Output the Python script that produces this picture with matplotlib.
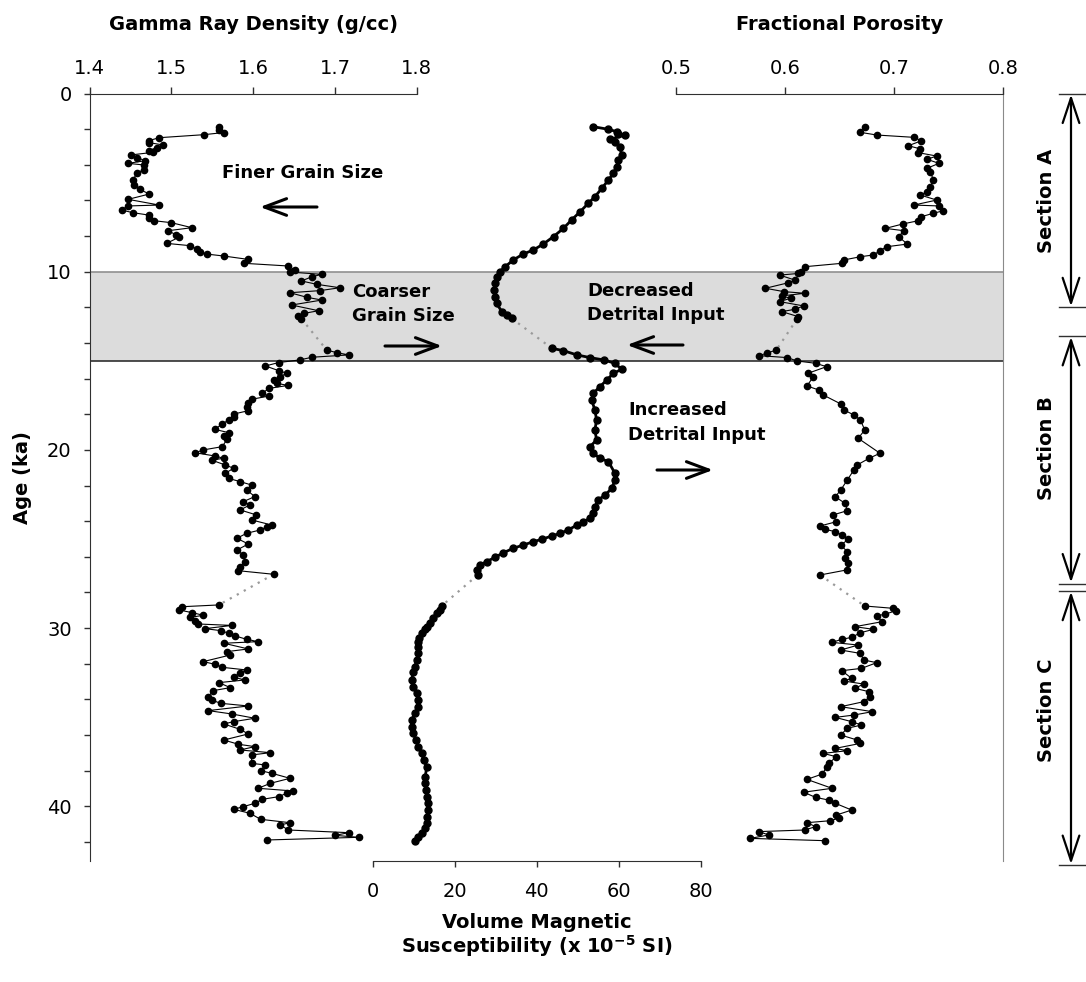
import numpy as np
import matplotlib
matplotlib.use('Agg')
import matplotlib.pyplot as plt
from matplotlib.patches import FancyArrowPatch

plt.rcParams['font.family'] = ['DejaVu Sans']
plt.rcParams['mathtext.default'] = 'bf'

# ---- Gamma ray density (g/cc) vs age (ka) ----
rho_age = [1.90, 2.05, 2.19, 2.31, 2.48, 2.65, 2.76, 2.89, 3.04, 3.21,
           3.30, 3.45, 3.60, 3.77, 3.92, 4.01, 4.29, 4.44, 4.85, 5.13,
           5.38, 5.64, 5.94, 6.26, 6.31, 6.54, 6.69, 6.82, 7.01, 7.14,
           7.25, 7.53, 7.70, 7.94, 8.07, 8.41, 8.54, 8.73, 8.88, 9.01,
           9.12, 9.31, 9.53, 9.68, 9.90, 10.02, 10.15, 10.28, 10.52, 10.71,
           10.90, 11.06, 11.18, 11.44, 11.59, 11.87, 12.19, 12.34, 12.49, 12.64,
           14.40, 14.54, 14.67, 14.80, 14.95, 15.10, 15.29, 15.55, 15.70, 15.89,
           16.08, 16.27, 16.38, 16.55, 16.83, 16.98, 17.16, 17.39, 17.61, 17.80,
           17.99, 18.13, 18.32, 18.55, 18.85, 19.03, 19.22, 19.41, 19.82, 20.00,
           20.16, 20.34, 20.47, 20.57, 20.85, 21.03, 21.31, 21.60, 21.78, 21.97,
           22.25, 22.62, 22.90, 23.09, 23.37, 23.65, 23.93, 24.22, 24.31, 24.50,
           24.68, 24.96, 25.28, 25.62, 25.90, 26.27, 26.55, 26.78, 26.98,
           28.70, 28.80, 28.98, 29.13, 29.28, 29.40, 29.58, 29.77, 29.85, 30.03,
           30.14, 30.29, 30.44, 30.63, 30.76, 30.85, 31.17, 31.32, 31.51, 31.88,
           32.03, 32.20, 32.35, 32.50, 32.76, 32.91, 33.06, 33.34, 33.51, 33.85,
           34.03, 34.22, 34.37, 34.63, 34.82, 35.06, 35.25, 35.38, 35.68, 35.94,
           36.28, 36.52, 36.65, 36.84, 36.99, 37.12, 37.59, 37.68, 38.00, 38.15,
           38.43, 38.71, 38.99, 39.14, 39.27, 39.46, 39.61, 39.83, 40.02, 40.17,
           40.39, 40.73, 40.92, 41.05, 41.33, 41.48, 41.63, 41.74, 41.89]
rho_val = [1.558, 1.558, 1.564, 1.540, 1.485, 1.472, 1.473, 1.490, 1.482, 1.472,
           1.478, 1.450, 1.458, 1.468, 1.447, 1.466, 1.466, 1.458, 1.453, 1.454,
           1.461, 1.473, 1.447, 1.485, 1.447, 1.439, 1.453, 1.472, 1.473, 1.479,
           1.500, 1.525, 1.496, 1.506, 1.509, 1.494, 1.523, 1.531, 1.535, 1.543,
           1.564, 1.594, 1.589, 1.643, 1.651, 1.645, 1.684, 1.672, 1.659, 1.678,
           1.706, 1.682, 1.645, 1.666, 1.684, 1.647, 1.680, 1.662, 1.655, 1.659,
           1.690, 1.702, 1.717, 1.672, 1.657, 1.631, 1.615, 1.631, 1.641, 1.633,
           1.625, 1.629, 1.643, 1.619, 1.611, 1.619, 1.598, 1.594, 1.592, 1.594,
           1.576, 1.576, 1.570, 1.562, 1.553, 1.570, 1.564, 1.568, 1.562, 1.539,
           1.529, 1.553, 1.564, 1.549, 1.566, 1.576, 1.566, 1.570, 1.584, 1.598,
           1.592, 1.602, 1.588, 1.596, 1.584, 1.604, 1.598, 1.623, 1.617, 1.608,
           1.592, 1.580, 1.594, 1.580, 1.588, 1.590, 1.584, 1.582, 1.625,
           1.558, 1.513, 1.509, 1.525, 1.539, 1.523, 1.529, 1.533, 1.574, 1.541,
           1.560, 1.570, 1.578, 1.592, 1.606, 1.564, 1.594, 1.568, 1.572, 1.539,
           1.553, 1.562, 1.592, 1.584, 1.576, 1.590, 1.558, 1.572, 1.551, 1.545,
           1.549, 1.560, 1.594, 1.545, 1.574, 1.602, 1.576, 1.564, 1.584, 1.594,
           1.564, 1.582, 1.602, 1.584, 1.621, 1.598, 1.598, 1.615, 1.609, 1.623,
           1.645, 1.621, 1.606, 1.649, 1.641, 1.631, 1.611, 1.602, 1.588, 1.576,
           1.596, 1.609, 1.645, 1.633, 1.643, 1.717, 1.700, 1.729, 1.617]

# ---- Fractional porosity vs age (ka) ----
por_age = [1.90, 2.18, 2.33, 2.46, 2.65, 2.93, 3.11, 3.32, 3.51, 3.69,
           3.92, 4.20, 4.39, 4.85, 5.23, 5.51, 5.70, 5.98, 6.26, 6.31,
           6.58, 6.72, 6.91, 7.14, 7.32, 7.57, 7.70, 8.03, 8.45, 8.60,
           8.82, 9.06, 9.16, 9.34, 9.53, 9.72, 10.00, 10.10, 10.19, 10.47,
           10.62, 10.93, 11.12, 11.21, 11.36, 11.49, 11.68, 11.92, 12.11, 12.24,
           12.52, 12.65,
           14.39, 14.58, 14.71, 14.82, 15.01, 15.14, 15.33, 15.70, 15.89, 16.41,
           16.64, 16.92, 17.42, 17.76, 18.04, 18.32, 18.88, 19.35, 20.19, 20.47,
           20.85, 21.13, 21.69, 22.25, 22.63, 23.00, 23.41, 23.65, 24.03, 24.27,
           24.46, 24.59, 24.77, 25.02, 25.34, 25.71, 26.08, 26.36, 26.73, 27.02,
           28.76, 28.89, 29.02, 29.21, 29.32, 29.64, 29.92, 30.07, 30.26, 30.52,
           30.63, 30.80, 30.95, 31.23, 31.42, 31.79, 31.94, 32.26, 32.39, 32.82,
           32.97, 33.14, 33.38, 33.57, 33.85, 34.13, 34.41, 34.69, 34.88, 35.01,
           35.25, 35.44, 35.62, 36.00, 36.28, 36.47, 36.75, 36.88, 37.03, 37.22,
           37.59, 37.81, 38.19, 38.49, 38.99, 39.21, 39.50, 39.65, 39.83, 40.21,
           40.49, 40.68, 40.81, 40.92, 41.14, 41.33, 41.42, 41.61, 41.80, 41.93]
por_val = [0.673, 0.669, 0.684, 0.718, 0.725, 0.713, 0.724, 0.722, 0.739, 0.730,
           0.741, 0.730, 0.733, 0.736, 0.733, 0.730, 0.724, 0.739, 0.718, 0.741,
           0.745, 0.736, 0.725, 0.722, 0.708, 0.692, 0.709, 0.704, 0.712, 0.693,
           0.687, 0.681, 0.669, 0.654, 0.652, 0.618, 0.615, 0.612, 0.595, 0.609,
           0.603, 0.582, 0.599, 0.618, 0.597, 0.605, 0.595, 0.617, 0.609, 0.597,
           0.612, 0.611,
           0.592, 0.583, 0.576, 0.602, 0.611, 0.628, 0.638, 0.621, 0.626, 0.620,
           0.631, 0.635, 0.651, 0.654, 0.663, 0.669, 0.673, 0.667, 0.687, 0.677,
           0.666, 0.663, 0.657, 0.651, 0.646, 0.655, 0.657, 0.644, 0.647, 0.632,
           0.637, 0.646, 0.652, 0.658, 0.651, 0.657, 0.655, 0.658, 0.657, 0.632,
           0.673, 0.699, 0.702, 0.692, 0.684, 0.689, 0.664, 0.681, 0.669, 0.661,
           0.652, 0.643, 0.667, 0.651, 0.669, 0.672, 0.684, 0.670, 0.652, 0.661,
           0.654, 0.672, 0.664, 0.677, 0.678, 0.672, 0.651, 0.680, 0.663, 0.646,
           0.661, 0.670, 0.657, 0.651, 0.666, 0.669, 0.646, 0.657, 0.635, 0.647,
           0.640, 0.638, 0.634, 0.620, 0.643, 0.617, 0.628, 0.640, 0.646, 0.661,
           0.647, 0.649, 0.641, 0.620, 0.628, 0.618, 0.576, 0.585, 0.568, 0.637]

# ---- Volume magnetic susceptibility (x 10^-5 SI) vs age (ka) ----
ms_age = [1.86, 2.01, 2.14, 2.27, 2.33, 2.57, 2.70, 2.98, 3.45, 3.73,
          4.11, 4.48, 4.85, 5.32, 5.79, 6.16, 6.63, 7.10, 7.57, 8.03,
          8.45, 8.78, 9.01, 9.34, 9.72, 10.00, 10.28, 10.65, 11.03, 11.40,
          11.78, 12.24, 12.43, 12.62,
          14.30, 14.43, 14.67, 14.82, 14.95, 15.14, 15.48, 15.70, 16.08, 16.45,
          16.83, 17.20, 17.76, 18.32, 18.88, 19.44, 19.82, 20.19, 20.47, 20.66,
          21.32, 21.69, 22.16, 22.53, 22.81, 23.19, 23.56, 23.84, 24.03, 24.22,
          24.49, 24.68, 24.83, 25.02, 25.15, 25.34, 25.52, 25.77, 26.03, 26.27,
          26.46, 26.74, 27.02,
          28.76, 28.98, 29.17, 29.45, 29.73, 29.92, 30.07, 30.29, 30.58, 30.76,
          31.04, 31.41, 31.79, 32.16, 32.44, 32.91, 33.29, 33.66, 34.04, 34.41,
          34.78, 35.16, 35.53, 35.91, 36.28, 36.65, 37.03, 37.40, 37.78, 38.34,
          38.71, 39.08, 39.46, 39.83, 40.20, 40.58, 40.96, 41.24, 41.51, 41.70,
          41.93]
ms_val = [53.7, 57.5, 59.5, 59.9, 61.5, 57.9, 59.1, 60.3, 60.7, 59.9,
          59.5, 58.7, 57.5, 55.9, 54.2, 52.6, 50.6, 48.5, 46.5, 44.1,
          41.6, 39.2, 36.7, 34.3, 32.3, 31.1, 30.2, 29.8, 29.6, 29.8,
          30.2, 31.5, 32.7, 33.9,
          43.7, 46.5, 49.8, 53.0, 56.3, 59.1, 60.7, 58.7, 57.1, 55.4,
          53.8, 53.4, 54.2, 54.6, 54.2, 54.6, 53.0, 53.8, 55.4, 57.5,
          59.1, 59.1, 58.3, 56.7, 55.0, 54.2, 53.8, 53.0, 51.4, 49.8,
          47.7, 45.7, 43.7, 41.2, 39.2, 36.7, 34.3, 31.9, 29.8, 27.8,
          26.2, 25.4, 25.6,
          16.8, 16.3, 15.6, 14.8, 14.0, 13.3, 12.8, 12.0, 11.4, 11.1,
          11.1, 11.1, 10.7, 10.3, 9.9, 9.5, 9.9, 10.7, 11.1, 11.1,
          10.3, 9.5, 9.5, 9.9, 10.6, 11.1, 12.0, 12.4, 13.2, 12.8,
          12.8, 13.0, 13.2, 13.6, 13.6, 13.3, 13.2, 12.8, 12.0, 11.1,
          10.3]

rho_ticks = [1.4, 1.5, 1.6, 1.7, 1.8]
por_ticks = [0.5, 0.6, 0.7, 0.8]
ms_ticks = [0, 20, 40, 60, 80]
age_ticks = [0, 10, 20, 30, 40]
band = (10, 15)
sections = [('Section A', 0.0, 12.0, 6.0), ('Section B', 13.6, 27.5, 19.9),
            ('Section C', 27.9, 43.3, 34.6)]

W, H = 1086, 982
TOP, BOT = 93.5, 861.0
AGE_MAX = (BOT - TOP) / 17.82


def rect(x0, x1):
    return [x0 / W, 1 - BOT / H, (x1 - x0) / W, (BOT - TOP) / H]


def age_px(a):
    return TOP + a * 17.82


def draw_log(axis, age, val, ms, lw):
    age = np.asarray(age)
    val = np.asarray(val)
    cut = np.where(np.diff(age) > 1.0)[0] + 1
    segs = list(zip(np.split(val, cut), np.split(age, cut)))
    for i, (v, a) in enumerate(segs):
        axis.plot(v, a, '-', color='k', lw=lw, marker='o', ms=ms,
                  mec='k', mfc='k', clip_on=False, zorder=3)
        if i + 1 < len(segs):
            v2, a2 = segs[i + 1]
            axis.plot([v[-1], v2[0]], [a[-1], a2[0]], color='#9a9a9a',
                      lw=1.6, ls=(0, (1, 2.6)), clip_on=False, zorder=2)


fig = plt.figure(figsize=(W / 100, H / 100), dpi=100)

# base axes: age axis, shaded band, right border line
ax = fig.add_axes(rect(89.7, 1003.3))
ax.set_ylim(AGE_MAX, 0)
ax.set_xlim(0, 1)
ax.axhspan(band[0], band[1], facecolor='#dcdcdc', edgecolor='none', zorder=0)
ax.axhline(band[0], color='#909090', lw=1.2, zorder=1)
ax.axhline(band[1], color='#303030', lw=1.2, zorder=1)
for s in ['top', 'bottom']:
    ax.spines[s].set_visible(False)
ax.spines['left'].set_color('#303030')
ax.spines['right'].set_color('#8a8a8a')
ax.set_xticks([])
ax.set_yticks(age_ticks)
ax.set_yticks(np.arange(2, 43, 2), minor=True)
ax.tick_params(axis='y', which='both', direction='out', length=4,
               width=1, color='#303030', labelsize=14, pad=9)
ax.tick_params(axis='y', which='minor', labelleft=False)
ax.set_ylabel('Age (ka)', fontsize=14, fontweight='bold', labelpad=11)


def top_axis(x0, x1, lim, ticks, title):
    a = fig.add_axes(rect(x0, x1))
    a.patch.set_alpha(0)
    a.set_xlim(*lim)
    a.set_ylim(AGE_MAX, 0)
    for s in ['bottom', 'left', 'right']:
        a.spines[s].set_visible(False)
    a.spines['top'].set_color('#303030')
    a.xaxis.tick_top()
    a.set_xticks(ticks)
    a.set_xticklabels([str(t) for t in ticks])
    a.set_yticks([])
    a.tick_params(axis='x', direction='out', length=5, width=1,
                  color='#303030', labelsize=14, pad=6)
    a.set_xlabel(title, fontsize=14, fontweight='bold', labelpad=21)
    a.xaxis.set_label_position('top')
    return a


ax_rho = top_axis(89.7, 416.7, (1.4, 1.8), rho_ticks,
                  'Gamma Ray Density (g/cc)')
ax_por = top_axis(676.0, 1003.3, (0.5, 0.8), por_ticks, 'Fractional Porosity')

ax_ms = fig.add_axes(rect(372.7, 700.7))
ax_ms.patch.set_alpha(0)
ax_ms.set_xlim(0, 80)
ax_ms.set_ylim(AGE_MAX, 0)
for s in ['top', 'left', 'right']:
    ax_ms.spines[s].set_visible(False)
ax_ms.spines['bottom'].set_color('#303030')
ax_ms.set_xticks(ms_ticks)
ax_ms.set_yticks([])
ax_ms.tick_params(axis='x', direction='out', length=4, width=1,
                  color='#303030', labelsize=14, pad=11)
ax_ms.set_xlabel('Volume Magnetic\nSusceptibility (x 10$^{-5}$ SI)',
                 fontsize=14, fontweight='bold', labelpad=9, linespacing=1.05)

draw_log(ax_rho, rho_age, rho_val, 4.5, 0.8)
draw_log(ax_por, por_age, por_val, 4.5, 0.8)
draw_log(ax_ms, ms_age, ms_val, 5.0, 2.0)

# overlay in pixel space for annotations
ov = fig.add_axes([0, 0, 1, 1])
ov.set_xlim(0, W)
ov.set_ylim(H, 0)
ov.axis('off')

note_kw = dict(fontsize=13, fontweight='bold', va='center', ha='left')
ov.text(222, 173, 'Finer Grain Size', **note_kw)
ov.text(352, 292, 'Coarser', **note_kw)
ov.text(352, 316, 'Grain Size', **note_kw)
ov.text(587, 291, 'Decreased', **note_kw)
ov.text(587, 315, 'Detrital Input', **note_kw)
ov.text(628, 410, 'Increased', **note_kw)
ov.text(628, 435, 'Detrital Input', **note_kw)

arrow_style = '->,head_length=0.8,head_width=0.3'
for (xa, xb, y) in [(317, 260, 207), (385, 442, 346), (683, 627, 345),
                    (657, 713, 470)]:
    ov.add_patch(FancyArrowPatch((xa, y), (xb, y), arrowstyle=arrow_style,
                                 mutation_scale=20, lw=2.2, color='k',
                                 shrinkA=0, shrinkB=0))

for name, a0, a1, amid in sections:
    y0, y1 = age_px(a0), age_px(a1)
    ov.add_patch(FancyArrowPatch((1071, y0 + 1), (1071, y1 - 1),
                                 arrowstyle='<->,head_length=0.9,head_width=0.3',
                                 mutation_scale=20, lw=1.6, color='k',
                                 shrinkA=0, shrinkB=0))
    for y in (y0, y1):
        ov.plot([1059, 1085], [y, y], color='#303030', lw=1)
    ov.text(1046, age_px(amid), name, rotation=90, fontsize=14,
            fontweight='bold', ha='center', va='center')

fig.savefig('out.png', dpi=100)
